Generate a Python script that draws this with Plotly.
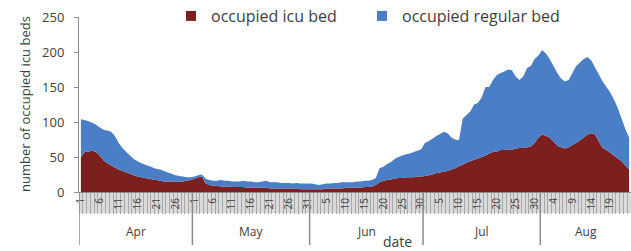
import plotly.graph_objects as go
import pandas as pd
import numpy as np

# ---- data ----
dates = pd.date_range("2020-04-01", "2020-08-24", freq="D")

icu = [
    # Apr
    50, 57, 58, 59, 57, 52, 45, 41, 38, 35, 32, 30, 28, 26, 24, 22, 21, 20, 19, 18,
    17, 16, 15, 15, 15, 15, 15, 15, 16, 17,
    # May
    19, 21, 22, 12, 10, 9, 9, 8, 8, 8, 7, 7, 7, 7, 6, 6, 6, 6, 6, 6,
    5, 5, 5, 5, 5, 5, 5, 5, 4, 4, 4,
    # Jun
    4, 4, 4, 4, 5, 5, 5, 5, 5, 6, 6, 6, 6, 6, 7, 7, 8, 10, 14, 16,
    17, 18, 19, 20, 20, 21, 21, 21, 22, 22,
    # Jul
    23, 24, 25, 27, 28, 29, 30, 32, 34, 37, 39, 42, 44, 46, 48, 50, 52, 55, 57, 58,
    60, 60, 61, 60, 62, 63, 63, 64, 65, 70, 78,
    # Aug
    82, 80, 78, 72, 66, 64, 62, 64, 67, 70, 74, 78, 82, 84, 82, 72, 63, 60, 56, 52,
    48, 44, 38, 32,
]

regular = [
    # Apr
    54, 46, 43, 40, 39, 40, 44, 47, 48, 45, 38, 33, 29, 26, 23, 22, 20, 19, 18, 17,
    16, 16, 15, 13, 11, 9, 8, 7, 5, 4,
    # May
    3, 3, 3, 7, 7, 7, 7, 9, 8, 8, 8, 8, 8, 9, 9, 9, 8, 8, 9, 10,
    9, 9, 9, 8, 8, 8, 7, 8, 8, 8, 8,
    # Jun
    8, 7, 6, 7, 7, 7, 8, 8, 9, 8, 8, 8, 9, 9, 9, 9, 9, 10, 20, 20,
    23, 25, 28, 30, 32, 33, 34, 36, 37, 39,
    # Jul
    47, 49, 51, 53, 55, 57, 54, 46, 41, 37, 66, 68, 71, 79, 79, 85, 98, 95, 103, 109,
    110, 112, 114, 114, 103, 97, 102, 113, 115, 120, 117,
    # Aug
    121, 118, 112, 108, 104, 98, 96, 96, 103, 110, 111, 112, 111, 104, 96, 96, 95, 90, 86, 80,
    72, 61, 52, 46,
]

series_names = ["occupied icu bed", "occupied regular bed"]
y_ticks = [0, 50, 100, 150, 200, 250]

# ---- styling ----
RED = "#7B1F1F"
BLUE = "#4A7EC6"
TXT = "#404040"
AXC = "#8C8C8C"
FONT = "Open Sans"

W, H = 631, 251
ML, MR, MT, MB = 79, 0, 2, 251 - 192
PW = W - ML - MR
PH = H - MT - MB
TOP_DOMAIN = (H - MB - 17) / PH


def py(pix):
    """window row -> paper y"""
    return (H - MB - pix) / PH


def px(pix):
    """window column -> paper x"""
    return (pix - ML) / PW


x = np.arange(1, len(dates) + 1)
day_labels = [str(d.day) for d in dates]
tickvals = list(x[::5])
ticktext = day_labels[::5]

fig = go.Figure()
fig.add_trace(go.Scatter(x=x, y=icu, stackgroup="one", mode="none",
                         fillcolor=RED, showlegend=False, hoverinfo="skip"))
fig.add_trace(go.Scatter(x=x, y=regular, stackgroup="one", mode="none",
                         fillcolor=BLUE, showlegend=False, hoverinfo="skip"))
for name, col, lg in zip(series_names, [RED, BLUE], ["legend", "legend2"]):
    fig.add_trace(go.Scatter(x=[None], y=[None], mode="markers", name=name, legend=lg,
                             marker=dict(symbol="square", size=10, color=col)))

# month separators and labels
month_key = dates.to_period("M")
shapes = []
annotations = []
x_end = len(dates) + 0.5
for m in month_key.unique():
    idx = x[month_key == m]
    first, last = idx[0], idx[-1]
    shapes.append(dict(type="line", xref="x", yref="paper",
                       x0=first - 0.5, x1=first - 0.5, y0=0, y1=py(245),
                       line=dict(color=AXC, width=1.5)))
    annotations.append(dict(x=(first + last) / 2, y=py(231), xref="x", yref="paper",
                            text=m.strftime("%b"), showarrow=False, yanchor="middle",
                            font=dict(family=FONT, size=12, color=TXT)))

# grey tick band under the axis
shapes.append(dict(type="rect", xref="paper", yref="paper", x0=0, x1=1,
                   y0=0, y1=py(213), fillcolor="#DADADA", line=dict(width=0),
                   layer="below"))

annotations.append(dict(x=px(397), y=py(241), xref="paper", yref="paper",
                        text="date", showarrow=False, yanchor="middle",
                        font=dict(family=FONT, size=14, color=TXT)))
annotations.append(dict(x=px(25), y=py(104), xref="paper", yref="paper",
                        text="number of occupied icu beds", textangle=-90,
                        showarrow=False, xanchor="center", yanchor="middle",
                        font=dict(family=FONT, size=13, color=TXT)))

legend_common = dict(orientation="h", xanchor="left", yanchor="middle",
                     font=dict(family=FONT, size=16, color=TXT),
                     bgcolor="rgba(0,0,0,0)")

fig.update_layout(
    width=W, height=H,
    margin=dict(l=ML, r=MR, t=MT, b=MB, autoexpand=False),
    paper_bgcolor="white", plot_bgcolor="white",
    font=dict(family=FONT, color=TXT),
    showlegend=True,
    legend=dict(x=px(171), y=py(16), **legend_common),
    legend2=dict(x=px(362), y=py(16), **legend_common),
    shapes=shapes,
    annotations=annotations,
)

fig.update_xaxes(
    range=[0.5, x_end], showgrid=False, zeroline=False, automargin=False,
    showline=True, linecolor=AXC, linewidth=1,
    tickmode="array", tickvals=tickvals, ticktext=ticktext,
    tickangle=-90, ticks="outside", ticklen=1, tickcolor="rgba(0,0,0,0)",
    tickfont=dict(family=FONT, size=10, color=TXT),
    minor=dict(ticks="outside", tick0=0.5, dtick=1, ticklen=21,
               tickcolor="#A8A8A8", tickwidth=1, showgrid=False),
)
fig.update_yaxes(
    range=[0, 250], domain=[0, TOP_DOMAIN], tickmode="array", tickvals=y_ticks,
    showgrid=False, zeroline=False, automargin=False,
    showline=True, linecolor=AXC, linewidth=1,
    ticks="outside", ticklen=4, tickcolor=AXC,
    ticklabelstandoff=7, ticklabeloverflow="allow",
    tickfont=dict(family=FONT, size=13, color=TXT),
)

# remove the page's default 8px body margin so the figure fills the window
fig.write_html("out.html", config={"displayModeBar": False},
               post_script="document.body.style.margin='0px';")
